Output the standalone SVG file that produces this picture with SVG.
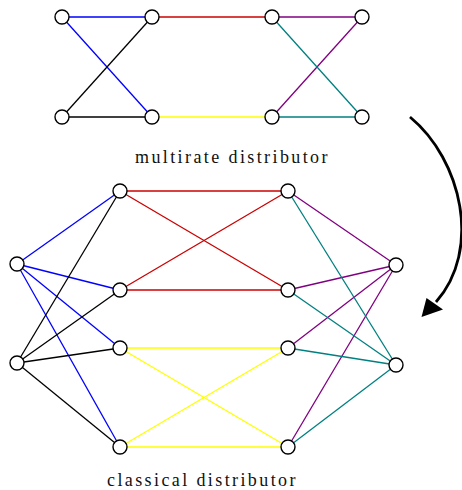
<svg xmlns="http://www.w3.org/2000/svg" width="462" height="490" viewBox="0 0 462 490">
<style>
.n{fill:#fff;stroke:#000;stroke-width:1.4}
line{stroke-width:1.3}
.b{stroke:#0000ff}.k{stroke:#000}.r{stroke:#cc0000}.y{stroke:#ffff00}.p{stroke:#800080}.t{stroke:#008080}
text{font-family:"Liberation Serif","Times New Roman",serif;font-size:18px;letter-spacing:2.4px;fill:#111}
</style>
<g id="connectors">
<line class="b" x1="62" y1="17" x2="152" y2="17"/>
<line class="b" x1="62" y1="17" x2="152" y2="117"/>
<line class="k" x1="62" y1="117" x2="152" y2="17"/>
<line class="k" x1="62" y1="117" x2="152" y2="117"/>
<line class="r" x1="152" y1="17" x2="272" y2="17"/>
<line class="y" x1="152" y1="117" x2="272" y2="117"/>
<line class="p" x1="272" y1="17" x2="362" y2="17"/>
<line class="p" x1="272" y1="117" x2="362" y2="17"/>
<line class="t" x1="272" y1="17" x2="362" y2="117"/>
<line class="t" x1="272" y1="117" x2="362" y2="117"/>

<line class="b" x1="17" y1="264" x2="120" y2="191"/>
<line class="b" x1="17" y1="264" x2="120" y2="290"/>
<line class="b" x1="17" y1="264" x2="120" y2="348"/>
<line class="b" x1="17" y1="264" x2="120" y2="447"/>
<line class="k" x1="17" y1="363" x2="120" y2="191"/>
<line class="k" x1="17" y1="363" x2="120" y2="290"/>
<line class="k" x1="17" y1="363" x2="120" y2="348"/>
<line class="k" x1="17" y1="363" x2="120" y2="447"/>
<line class="r" x1="120" y1="191" x2="288" y2="191"/>
<line class="r" x1="120" y1="191" x2="288" y2="290"/>
<line class="r" x1="120" y1="290" x2="288" y2="191"/>
<line class="r" x1="120" y1="290" x2="288" y2="290"/>
<line class="y" x1="120" y1="348" x2="288" y2="348"/>
<line class="y" x1="120" y1="348" x2="288" y2="447"/>
<line class="y" x1="120" y1="447" x2="288" y2="348"/>
<line class="y" x1="120" y1="447" x2="288" y2="447"/>
<line class="p" x1="288" y1="191" x2="396" y2="265"/>
<line class="p" x1="288" y1="290" x2="396" y2="265"/>
<line class="p" x1="288" y1="348" x2="396" y2="265"/>
<line class="p" x1="288" y1="447" x2="396" y2="265"/>
<line class="t" x1="288" y1="191" x2="396" y2="365"/>
<line class="t" x1="288" y1="290" x2="396" y2="365"/>
<line class="t" x1="288" y1="348" x2="396" y2="365"/>
<line class="t" x1="288" y1="447" x2="396" y2="365"/>
</g>
<g id="top-a1"><circle class="n" cx="62" cy="17" r="7"/></g>
<g id="top-a2"><circle class="n" cx="62" cy="117" r="7"/></g>
<g id="top-b1"><circle class="n" cx="152" cy="17" r="7"/></g>
<g id="top-b2"><circle class="n" cx="152" cy="117" r="7"/></g>
<g id="top-c1"><circle class="n" cx="272" cy="17" r="7"/></g>
<g id="top-c2"><circle class="n" cx="272" cy="117" r="7"/></g>
<g id="top-d1"><circle class="n" cx="362" cy="17" r="7"/></g>
<g id="top-d2"><circle class="n" cx="362" cy="117" r="7"/></g>

<g id="bot-l1"><circle class="n" cx="17" cy="264" r="7"/></g>
<g id="bot-l2"><circle class="n" cx="17" cy="363" r="7"/></g>
<g id="bot-m1"><circle class="n" cx="120" cy="191" r="7"/></g>
<g id="bot-m2"><circle class="n" cx="120" cy="290" r="7"/></g>
<g id="bot-m3"><circle class="n" cx="120" cy="348" r="7"/></g>
<g id="bot-m4"><circle class="n" cx="120" cy="447" r="7"/></g>
<g id="bot-n1"><circle class="n" cx="288" cy="191" r="7"/></g>
<g id="bot-n2"><circle class="n" cx="288" cy="290" r="7"/></g>
<g id="bot-n3"><circle class="n" cx="288" cy="348" r="7"/></g>
<g id="bot-n4"><circle class="n" cx="288" cy="447" r="7"/></g>
<g id="bot-r1"><circle class="n" cx="396" cy="265" r="7"/></g>
<g id="bot-r2"><circle class="n" cx="396" cy="365" r="7"/></g>

<g id="arrow">
<path d="M410,117 C462,160 482,250 436,302" fill="none" stroke="#000" stroke-width="2.8"/>
<polygon points="421.5,317 426.5,298 443,309.5" fill="#000"/>
</g>
<text x="135" y="163">multirate distributor</text>
<text x="107" y="486">classical distributor</text>
</svg>
